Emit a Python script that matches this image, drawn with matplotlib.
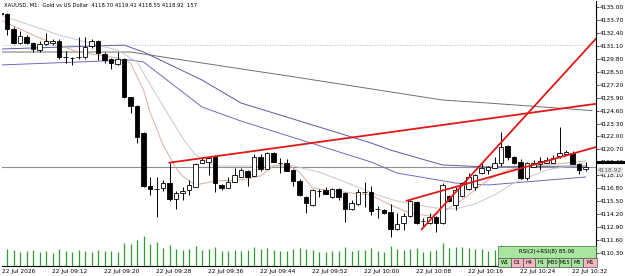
import numpy as np
import matplotlib.pyplot as plt
from matplotlib.patches import Rectangle
from matplotlib.transforms import blended_transform_factory

# XAUUSD M1 candles, 09:04 .. 10:34
opens = [4134.40, 4134.30, 4132.79, 4131.39, 4131.99, 4131.39, 4130.68, 4131.29, 4131.39, 4131.59,
         4129.98, 4129.88, 4129.95, 4129.98, 4131.08, 4131.59, 4130.28, 4129.78, 4129.28, 4129.78,
         4125.96, 4125.06, 4122.35, 4117.03, 4116.73, 4116.83, 4117.33, 4115.72, 4116.33, 4116.63,
         4116.93, 4119.34, 4119.44, 4119.94, 4117.13, 4116.83, 4117.43, 4117.93, 4118.53, 4118.03,
         4119.94, 4118.74, 4120.34, 4119.34, 4119.34, 4118.64, 4117.53, 4115.92, 4115.12, 4116.53,
         4116.63, 4115.92, 4116.73, 4116.33, 4114.72, 4115.22, 4116.43, 4116.43, 4114.72, 4114.62,
         4114.42, 4112.71, 4113.31, 4114.02, 4115.42, 4113.51, 4113.31, 4113.92, 4113.31, 4116.02,
         4115.12, 4116.02, 4116.73, 4116.93, 4118.33, 4118.64, 4118.84, 4119.34, 4121.04, 4119.94,
         4119.44, 4117.83, 4118.94, 4119.24, 4119.34, 4119.34, 4120.04, 4120.24, 4120.34, 4119.24,
         4118.70]
highs = [4134.45, 4134.40, 4132.99, 4132.59, 4132.19, 4131.45, 4131.59, 4132.39, 4131.79, 4131.79,
         4130.58, 4129.98, 4131.99, 4131.99, 4131.79, 4131.65, 4130.48, 4129.85, 4130.48, 4129.88,
         4126.00, 4125.16, 4122.45, 4117.93, 4117.93, 4117.63, 4119.34, 4116.53, 4116.93, 4117.63,
         4119.34, 4119.94, 4120.04, 4120.14, 4117.20, 4117.93, 4118.84, 4118.84, 4118.60, 4120.24,
         4120.24, 4120.44, 4120.44, 4119.84, 4119.74, 4118.70, 4117.73, 4116.00, 4116.73, 4116.73,
         4116.93, 4116.80, 4116.80, 4116.40, 4115.62, 4116.73, 4117.43, 4117.03, 4115.02, 4114.70,
         4115.22, 4114.32, 4114.32, 4115.62, 4115.50, 4113.81, 4114.32, 4114.00, 4117.33, 4116.10,
         4116.93, 4117.43, 4118.33, 4118.20, 4119.34, 4119.04, 4119.94, 4122.45, 4121.10, 4120.00,
         4119.74, 4119.40, 4119.64, 4119.94, 4119.94, 4120.14, 4122.95, 4120.64, 4120.50, 4119.30,
         4119.41]
lows = [4134.20, 4132.19, 4131.30, 4131.30, 4131.29, 4130.48, 4130.48, 4131.20, 4131.18, 4129.78,
        4129.38, 4129.18, 4129.78, 4129.78, 4130.88, 4129.68, 4129.38, 4128.78, 4129.20, 4125.90,
        4124.36, 4121.35, 4116.95, 4116.12, 4113.92, 4116.53, 4115.52, 4114.72, 4115.62, 4116.12,
        4116.90, 4119.30, 4118.13, 4116.43, 4116.63, 4116.80, 4117.40, 4117.90, 4117.03, 4118.00,
        4118.53, 4118.70, 4119.40, 4118.33, 4118.50, 4117.03, 4116.05, 4114.32, 4115.02, 4115.92,
        4116.20, 4115.85, 4115.62, 4113.41, 4114.65, 4115.15, 4114.92, 4114.12, 4113.81, 4114.25,
        4111.91, 4112.65, 4112.61, 4113.95, 4113.21, 4112.91, 4113.25, 4112.41, 4113.25, 4115.45,
        4114.62, 4115.95, 4116.65, 4116.63, 4118.20, 4118.23, 4118.80, 4119.04, 4119.64, 4119.25,
        4117.75, 4117.63, 4118.90, 4118.64, 4119.30, 4119.30, 4119.80, 4120.20, 4119.20, 4118.23,
        4118.55]
closes = [4134.30, 4132.79, 4131.39, 4132.09, 4131.39, 4130.78, 4131.29, 4131.59, 4131.59, 4129.98,
          4129.95, 4129.90, 4129.98, 4130.98, 4131.59, 4130.38, 4129.68, 4129.38, 4129.78, 4125.96,
          4125.06, 4121.95, 4117.03, 4116.73, 4116.70, 4117.33, 4115.72, 4116.33, 4116.53, 4117.13,
          4119.24, 4119.64, 4119.84, 4117.33, 4116.83, 4117.43, 4118.13, 4118.64, 4117.93, 4119.94,
          4118.74, 4120.34, 4119.44, 4119.30, 4118.53, 4117.53, 4116.12, 4115.32, 4116.63, 4116.55,
          4116.23, 4116.73, 4115.92, 4114.72, 4115.32, 4116.43, 4116.45, 4114.52, 4114.70, 4114.32,
          4112.71, 4113.21, 4114.02, 4115.52, 4113.31, 4113.50, 4113.92, 4113.31, 4117.13, 4115.52,
          4116.63, 4117.33, 4117.93, 4118.13, 4118.84, 4118.94, 4119.34, 4120.94, 4119.94, 4119.34,
          4117.83, 4119.34, 4119.34, 4119.54, 4119.64, 4119.84, 4120.34, 4120.44, 4119.24, 4118.64,
          4118.92]
volumes = [150, 170, 160, 140, 150, 160, 140, 150, 130, 170,
           150, 140, 160, 150, 140, 160, 150, 150, 140, 230,
           220, 260, 300, 220, 240, 180, 210, 170, 160, 170,
           200, 160, 170, 190, 150, 150, 160, 150, 160, 190,
           170, 180, 160, 150, 150, 170, 180, 170, 160, 140,
           140, 150, 150, 190, 150, 160, 160, 180, 150, 140,
           200, 170, 160, 170, 180, 140, 150, 160, 230, 180,
           190, 190, 180, 170, 170, 150, 160, 210, 180, 160,
           190, 170, 150, 150, 140, 150, 180, 140, 170, 140,
           60]

# moving averages, sampled by eye: (bar index, price)
ma_fast_idx = [0, 6, 12, 18, 20, 22, 23, 25, 27, 28, 30, 33, 37, 40, 42, 44, 46, 48, 50, 54,
               57, 60, 63, 66, 68, 71, 73, 75, 78, 81, 84, 90]
ma_fast = [4133.69, 4131.89, 4130.48, 4129.88, 4129.38, 4126.67, 4124.46, 4121.15, 4118.84, 4118.03,
           4117.13, 4117.53, 4117.63, 4118.03, 4119.04, 4119.24, 4118.43, 4116.83, 4116.63, 4116.33,
           4116.12, 4115.12, 4114.32, 4114.02, 4114.42, 4115.62, 4116.63, 4117.63, 4118.64, 4119.04,
           4119.14, 4119.54]
ma_slow_idx = [0, 9, 18, 21, 24, 28, 30, 33, 40, 45, 49, 55, 58, 61, 64, 67, 70, 73, 76, 79,
               84, 90]
ma_slow = [4134.20, 4132.19, 4130.68, 4129.48, 4126.16, 4121.85, 4120.14, 4119.04, 4119.04, 4119.04,
           4118.43, 4116.93, 4116.12, 4115.52, 4115.12, 4114.82, 4114.72, 4115.22, 4116.13, 4117.33,
           4118.64, 4119.34]
ma_blue1_idx = [0, 19, 22, 31, 37, 57, 60, 68, 75, 90]
ma_blue1 = [4130.78, 4131.18, 4130.48, 4127.67, 4125.36, 4121.35, 4120.64, 4119.14, 4118.94, 4119.04]
ma_blue2_idx = [0, 20, 22, 31, 37, 57, 61, 70, 75, 90]
ma_blue2 = [4129.18, 4129.68, 4129.48, 4124.96, 4123.55, 4119.44, 4118.33, 4117.33, 4117.13, 4117.93]
ma_long_idx = [0, 20, 31, 46, 68, 75, 91]
ma_long = [4130.48, 4130.48, 4129.38, 4127.90, 4125.66, 4125.36, 4124.60]

# red trend lines: (start idx, start price, end idx, end price)
trend_upper = [25.97, 4119.37, 91.6, 4125.28]
trend_mid = [62.5, 4115.55, 91.6, 4120.94]
trend_steep = [64.8, 4112.68, 91.6, 4131.81]

bid = 4118.92
level_dotted = 4131.18

price_ticks = [4135.00, 4133.70, 4132.40, 4131.10, 4129.80, 4128.50, 4127.20, 4125.90, 4124.60,
               4123.30, 4122.00, 4120.70, 4119.40, 4118.10, 4116.80, 4115.50, 4114.20, 4112.90,
               4111.60, 4110.30]
time_idx = [0, 8, 16, 24, 32, 40, 48, 56, 64, 72, 80, 88]
time_labels = ['22 Jul 2026', '22 Jul 09:12', '22 Jul 09:20', '22 Jul 09:28', '22 Jul 09:36',
               '22 Jul 09:44', '22 Jul 09:52', '22 Jul 10:00', '22 Jul 10:08', '22 Jul 10:16',
               '22 Jul 10:24', '22 Jul 10:32']
tf_buttons = ['W1', 'D1', 'H4', 'H1', 'M30', 'M15', 'M5', 'M1']
tf_colors = ['#a8e6a0', '#f4b6c2', '#f4b6c2', '#a8e6a0', '#a8e6a0', '#a8e6a0', '#a8e6a0', '#f4b6c2']

W, H = 625, 276
fig = plt.figure(figsize=(W / 100, H / 100), dpi=100)
left, right, top, bottom = 2, 596, 1, 266
ax = fig.add_axes([left / W, 1 - bottom / H, (right - left) / W, (bottom - top) / H])
ax.set_xlim((left - 0.5) / 6.5, (right - 0.5) / 6.5)
ax.set_ylim(4135 - (bottom - 7) / 9.96, 4135 - (top - 7) / 9.96)

# volume pane on the same x range
vax = fig.add_axes([left / W, 1 - bottom / H, (right - left) / W, 40 / H], sharex=ax)
vax.patch.set_alpha(0)
vax.set_ylim(0, 400)
vax.axis('off')
x = np.arange(len(closes))
vax.vlines(x, 0, volumes, color='#2e9e2e', lw=0.9)

ax.axhline(level_dotted, color='#8aa88a', lw=0.6, ls=(0, (1, 2)), zorder=1)
ax.axhline(bid, color='#909090', lw=0.8, zorder=1)

ax.plot(ma_long_idx, ma_long, color='#707070', lw=0.7, zorder=2)
ax.plot(ma_blue1_idx, ma_blue1, color='#5a5aa8', lw=0.7, zorder=2)
ax.plot(ma_blue2_idx, ma_blue2, color='#6c6cb8', lw=0.7, zorder=2)
ax.plot(ma_slow_idx, ma_slow, color='#c8c8c8', lw=0.7, zorder=2)
ax.plot(ma_fast_idx, ma_fast, color='#d8b0a0', lw=0.7, zorder=2)

o = np.array(opens); c = np.array(closes)
ax.vlines(x, lows, highs, color='black', lw=0.7, zorder=3)
up = c >= o
bh = np.maximum(np.abs(c - o), 0.04)
ax.bar(x[up], bh[up], bottom=o[up], width=0.62, color='white', edgecolor='black', lw=0.6, zorder=4)
ax.bar(x[~up], bh[~up], bottom=c[~up], width=0.62, color='black', edgecolor='black', lw=0.6, zorder=4)

for t in (trend_upper, trend_mid, trend_steep):
    ax.plot([t[0], t[2]], [t[1], t[3]], color='#e01818', lw=1.3, zorder=5, clip_on=True)

# price scale on the right
ax.yaxis.tick_right()
ax.set_yticks(price_ticks)
ax.set_yticklabels(['%.2f' % p for p in price_ticks], fontsize=4.2)
ax.tick_params(axis='y', length=2, width=0.5, pad=1)
ax.set_xticks([])
for s in ['top', 'left']:
    ax.spines[s].set_visible(False)
ax.spines['right'].set_linewidth(0.8)
ax.spines['bottom'].set_linewidth(0.8)
ytr = blended_transform_factory(ax.transAxes, ax.transData)
ax.plot([1.0, 1.05], [4119.40, 4119.40], transform=ytr, color='black', lw=2.2, clip_on=False,
        solid_capstyle='butt')
ax.text(1.003, bid - 0.35, '%.2f' % bid, transform=ytr,
        fontsize=4.2, va='center', ha='left', color='#606060',
        bbox=dict(boxstyle='square,pad=0.12', fc='#e8e8e8', ec='none'))

tr = blended_transform_factory(ax.transData, ax.transAxes)
for i, lab in zip(time_idx, time_labels):
    ax.text(max(i, ax.get_xlim()[0]), -0.012, lab, transform=tr, fontsize=4.2, ha='left', va='top')

ax.text(0.003, 0.995, 'XAUUSD, M1:  Gold vs US Dollar  4118.70 4119.41 4118.55 4118.92  157',
        transform=ax.transAxes, fontsize=3.8, ha='left', va='top')

# indicator panel + timeframe buttons
px = lambda v: v / W
py = lambda v: 1 - v / H
fig.patches.append(Rectangle((px(498), py(258)), px(98), 12 / H, transform=fig.transFigure,
                             fc='#a8e6a0', ec='#3a7a3a', lw=0.5, zorder=10))
fig.text(px(547), py(251.5), 'RSI(2)+RSI(8) 85.06', fontsize=4, ha='center', va='center', zorder=11)
bx = [498, 511, 523, 535, 547, 559, 571, 583, 597]
for k, lab in enumerate(tf_buttons):
    fig.patches.append(Rectangle((px(bx[k]), py(267)), px(bx[k + 1] - bx[k]), 9 / H,
                                 transform=fig.transFigure, fc=tf_colors[k], ec='#555555',
                                 lw=0.5, zorder=10))
    fig.text(px((bx[k] + bx[k + 1]) / 2), py(262.5), lab, fontsize=3.6, ha='center', va='center',
             zorder=11)

fig.savefig('out.png', dpi=100)
